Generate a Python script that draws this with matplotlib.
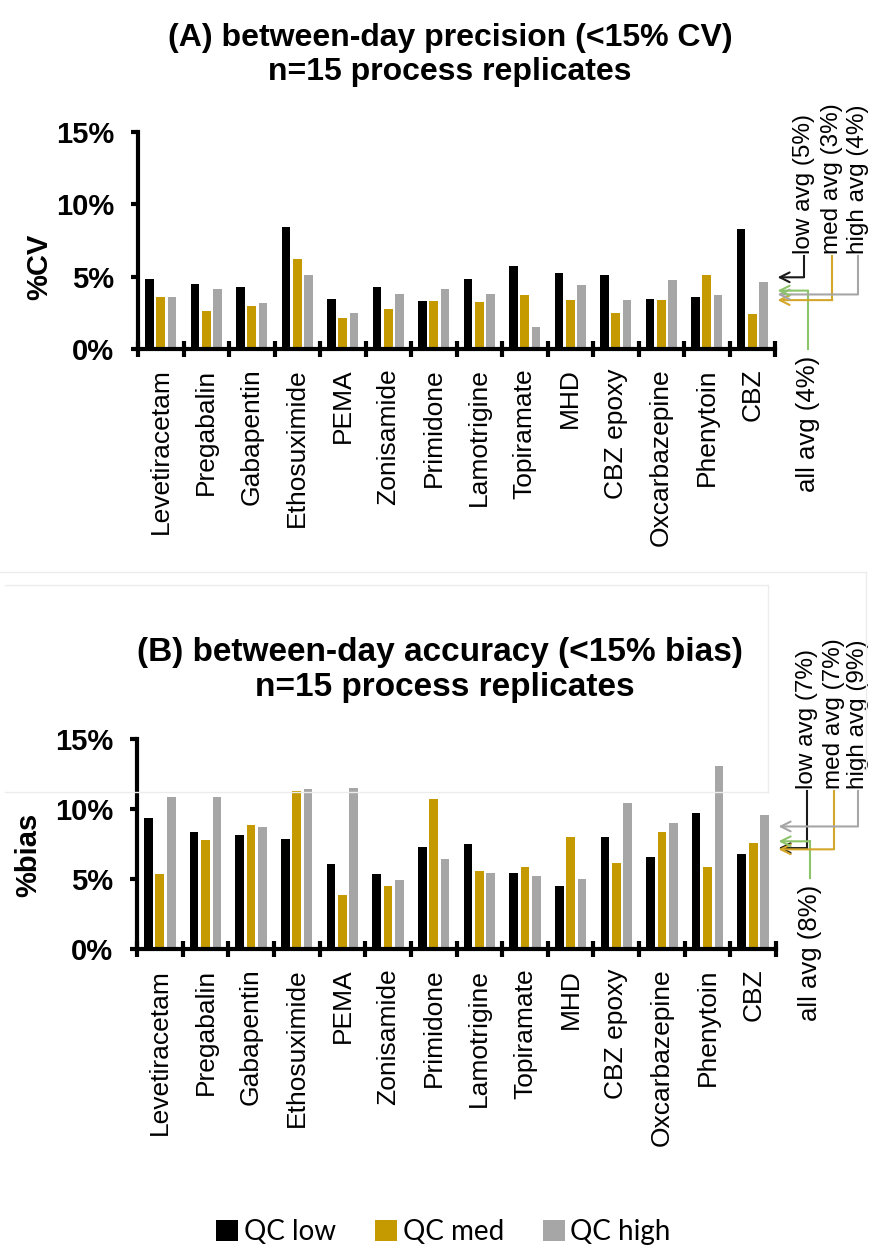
import numpy as np
import matplotlib.pyplot as plt
from matplotlib.patches import Patch
from matplotlib.lines import Line2D
import matplotlib.transforms as mtransforms

plt.rcParams['font.family'] = ['Liberation Sans', 'DejaVu Sans']

drugs = ['Levetiracetam', 'Pregabalin', 'Gabapentin', 'Ethosuximide', 'PEMA',
         'Zonisamide', 'Primidone', 'Lamotrigine', 'Topiramate', 'MHD',
         'CBZ epoxy', 'Oxcarbazepine', 'Phenytoin', 'CBZ']

# (A) between-day precision, %CV
cv_low = [4.84, 4.50, 4.28, 8.43, 3.45, 4.28, 3.33, 4.84, 5.72, 5.25, 5.14, 3.45, 3.58, 8.30]
cv_med = [3.56, 2.60, 3.00, 6.20, 2.15, 2.75, 3.33, 3.24, 3.70, 3.36, 2.52, 3.36, 5.14, 2.40]
cv_high = [3.56, 4.17, 3.15, 5.14, 2.52, 3.82, 4.17, 3.82, 1.55, 4.44, 3.36, 4.75, 3.70, 4.63]

# (B) between-day accuracy, %bias
bias_low = [9.36, 8.36, 8.16, 7.90, 6.09, 5.36, 7.31, 7.52, 5.47, 4.52, 8.05, 6.57, 9.71, 6.81]
bias_med = [5.36, 7.79, 8.88, 11.33, 3.88, 4.50, 10.71, 5.59, 5.86, 8.05, 6.19, 8.40, 5.86, 7.57]
bias_high = [10.90, 10.90, 8.76, 11.43, 11.55, 4.95, 6.43, 5.47, 5.24, 5.00, 10.48, 9.00, 13.12, 9.60]

series_names = ['QC low', 'QC med', 'QC high']
colors = ['#000000', '#C49A00', '#A6A6A6']
line_colors = ['#1a1a1a', '#D4A62A', '#A6A6A6']
green = '#8CC46A'

W, H = 873, 1249
fig = plt.figure(figsize=(W / 100, H / 100), dpi=100)


def px_axes(left, right, bottom, top):
    return [left / W, 1 - bottom / H, (right - left) / W, (bottom - top) / H]


def draw_panel(ax, low, med, high, ylabel, ylabel_pos, corners, text_y, green_end, green_text_y):
    x = np.arange(len(drugs)) + 0.5
    for off, vals, c in zip([-0.25, 0.0, 0.25], [low, med, high], colors):
        ax.bar(x + off, vals, width=0.19, color=c, zorder=2)

    ax.set_xlim(0, len(drugs))
    ax.set_ylim(0, 15)
    for s in ['top', 'right']:
        ax.spines[s].set_visible(False)
    for s in ['left', 'bottom']:
        ax.spines[s].set_linewidth(3.0)
        ax.spines[s].set_zorder(3)

    ax.set_yticks([0, 5, 10, 15])
    ax.set_yticklabels(['0%', '5%', '10%', '15%'], fontsize=21, fontweight='bold')
    ax.tick_params(axis='y', direction='out', length=5, width=3, pad=12)

    ax.set_xticks(np.arange(len(drugs) + 1))
    ax.set_xticklabels([])
    ax.tick_params(axis='x', which='major', direction='inout', length=12, width=3)
    ax.set_xticks(x, minor=True)
    ax.set_xticklabels(drugs, minor=True, rotation=90, fontsize=19)
    ax.tick_params(axis='x', which='minor', length=0, pad=14)

    ax.set_ylabel(ylabel, fontsize=21, fontweight='bold')
    ax.yaxis.set_label_coords(*ylabel_pos)

    # average arrows on the right
    trans = mtransforms.blended_transform_factory(ax.transAxes, ax.transData)
    avgs = [np.mean(low), np.mean(med), np.mean(high)]
    names = ['low avg', 'med avg', 'high avg']
    for avg, xc, name, c in zip(avgs, corners[:3], names, line_colors):
        ax.annotate('', xy=(1.004, avg), xytext=(xc, avg), xycoords=trans, textcoords=trans,
                    arrowprops=dict(arrowstyle='->,head_length=0.7,head_width=0.35',
                                    color=c, lw=1.5, shrinkA=0, shrinkB=0))
        ax.plot([xc, xc], [avg, text_y], transform=trans, color=c, lw=1.5, clip_on=False)
        ax.text(xc, text_y + 0.15, f'{name} ({avg:.0f}%)', transform=trans, rotation=90,
                ha='center', va='bottom', fontsize=17.5)

    all_avg = np.mean(np.concatenate([low, med, high]))
    xg = corners[3]
    ax.annotate('', xy=(1.004, all_avg), xytext=(xg, all_avg), xycoords=trans, textcoords=trans,
                arrowprops=dict(arrowstyle='->,head_length=0.7,head_width=0.35',
                                color=green, lw=1.5, shrinkA=0, shrinkB=0))
    ax.plot([xg, xg], [all_avg, green_end], transform=trans, color=green, lw=1.5, clip_on=False)
    ax.text(xg, green_text_y, f'all avg ({all_avg:.0f}%)', transform=trans, rotation=90,
            ha='center', va='top', fontsize=18.5)


axA = fig.add_axes(px_axes(138, 775, 349, 132))
draw_panel(axA, cv_low, cv_med, cv_high, '%CV', (-0.133, 0.38),
           [1.045, 1.090, 1.130, 1.052], 6.4, 0.0, -0.5)

axB = fig.add_axes(px_axes(137, 776, 949.3, 739.3))
draw_panel(axB, bias_low, bias_med, bias_high, '%bias', (-0.149, 0.45),
           [1.048, 1.090, 1.128, 1.053], 11.3, 5.1, 4.6)

# titles
fig.text(450 / W, 1 - 38 / H, '(A) between-day precision (<15% CV)', ha='center', va='center',
         fontsize=23, fontweight='bold')
fig.text(450 / W, 1 - 72 / H, 'n=15 process replicates', ha='center', va='center',
         fontsize=23, fontweight='bold')
fig.text(440 / W, 1 - 653 / H, '(B) between-day accuracy (<15% bias)', ha='center', va='center',
         fontsize=24, fontweight='bold')
fig.text(445 / W, 1 - 688 / H, 'n=15 process replicates', ha='center', va='center',
         fontsize=24, fontweight='bold')

# faint frame around the lower panel heading
frame_c = '#ececec'
fig.add_artist(Line2D([0 / W, 866 / W], [1 - 572 / H, 1 - 572 / H], color=frame_c, lw=1))
fig.add_artist(Line2D([866 / W, 866 / W], [1 - 572 / H, 1 - 770 / H], color=frame_c, lw=1))
fig.add_artist(Line2D([5 / W, 768 / W], [1 - 585 / H, 1 - 585 / H], color=frame_c, lw=1))
fig.add_artist(Line2D([768 / W, 768 / W], [1 - 585 / H, 1 - 792 / H], color=frame_c, lw=1))
fig.add_artist(Line2D([5 / W, 768 / W], [1 - 792 / H, 1 - 792 / H], color=frame_c, lw=1))

handles = [Patch(facecolor=c, edgecolor='none') for c in colors]
fig.legend(handles, series_names, loc='center', bbox_to_anchor=(0.508, 1 - 1232 / H), ncol=3,
           frameon=False, prop={'family': ['Lato', 'DejaVu Sans'], 'size': 20},
           handlelength=0.8, handleheight=0.8, handletextpad=0.2, columnspacing=1.4)

fig.savefig('out.png', dpi=100)
